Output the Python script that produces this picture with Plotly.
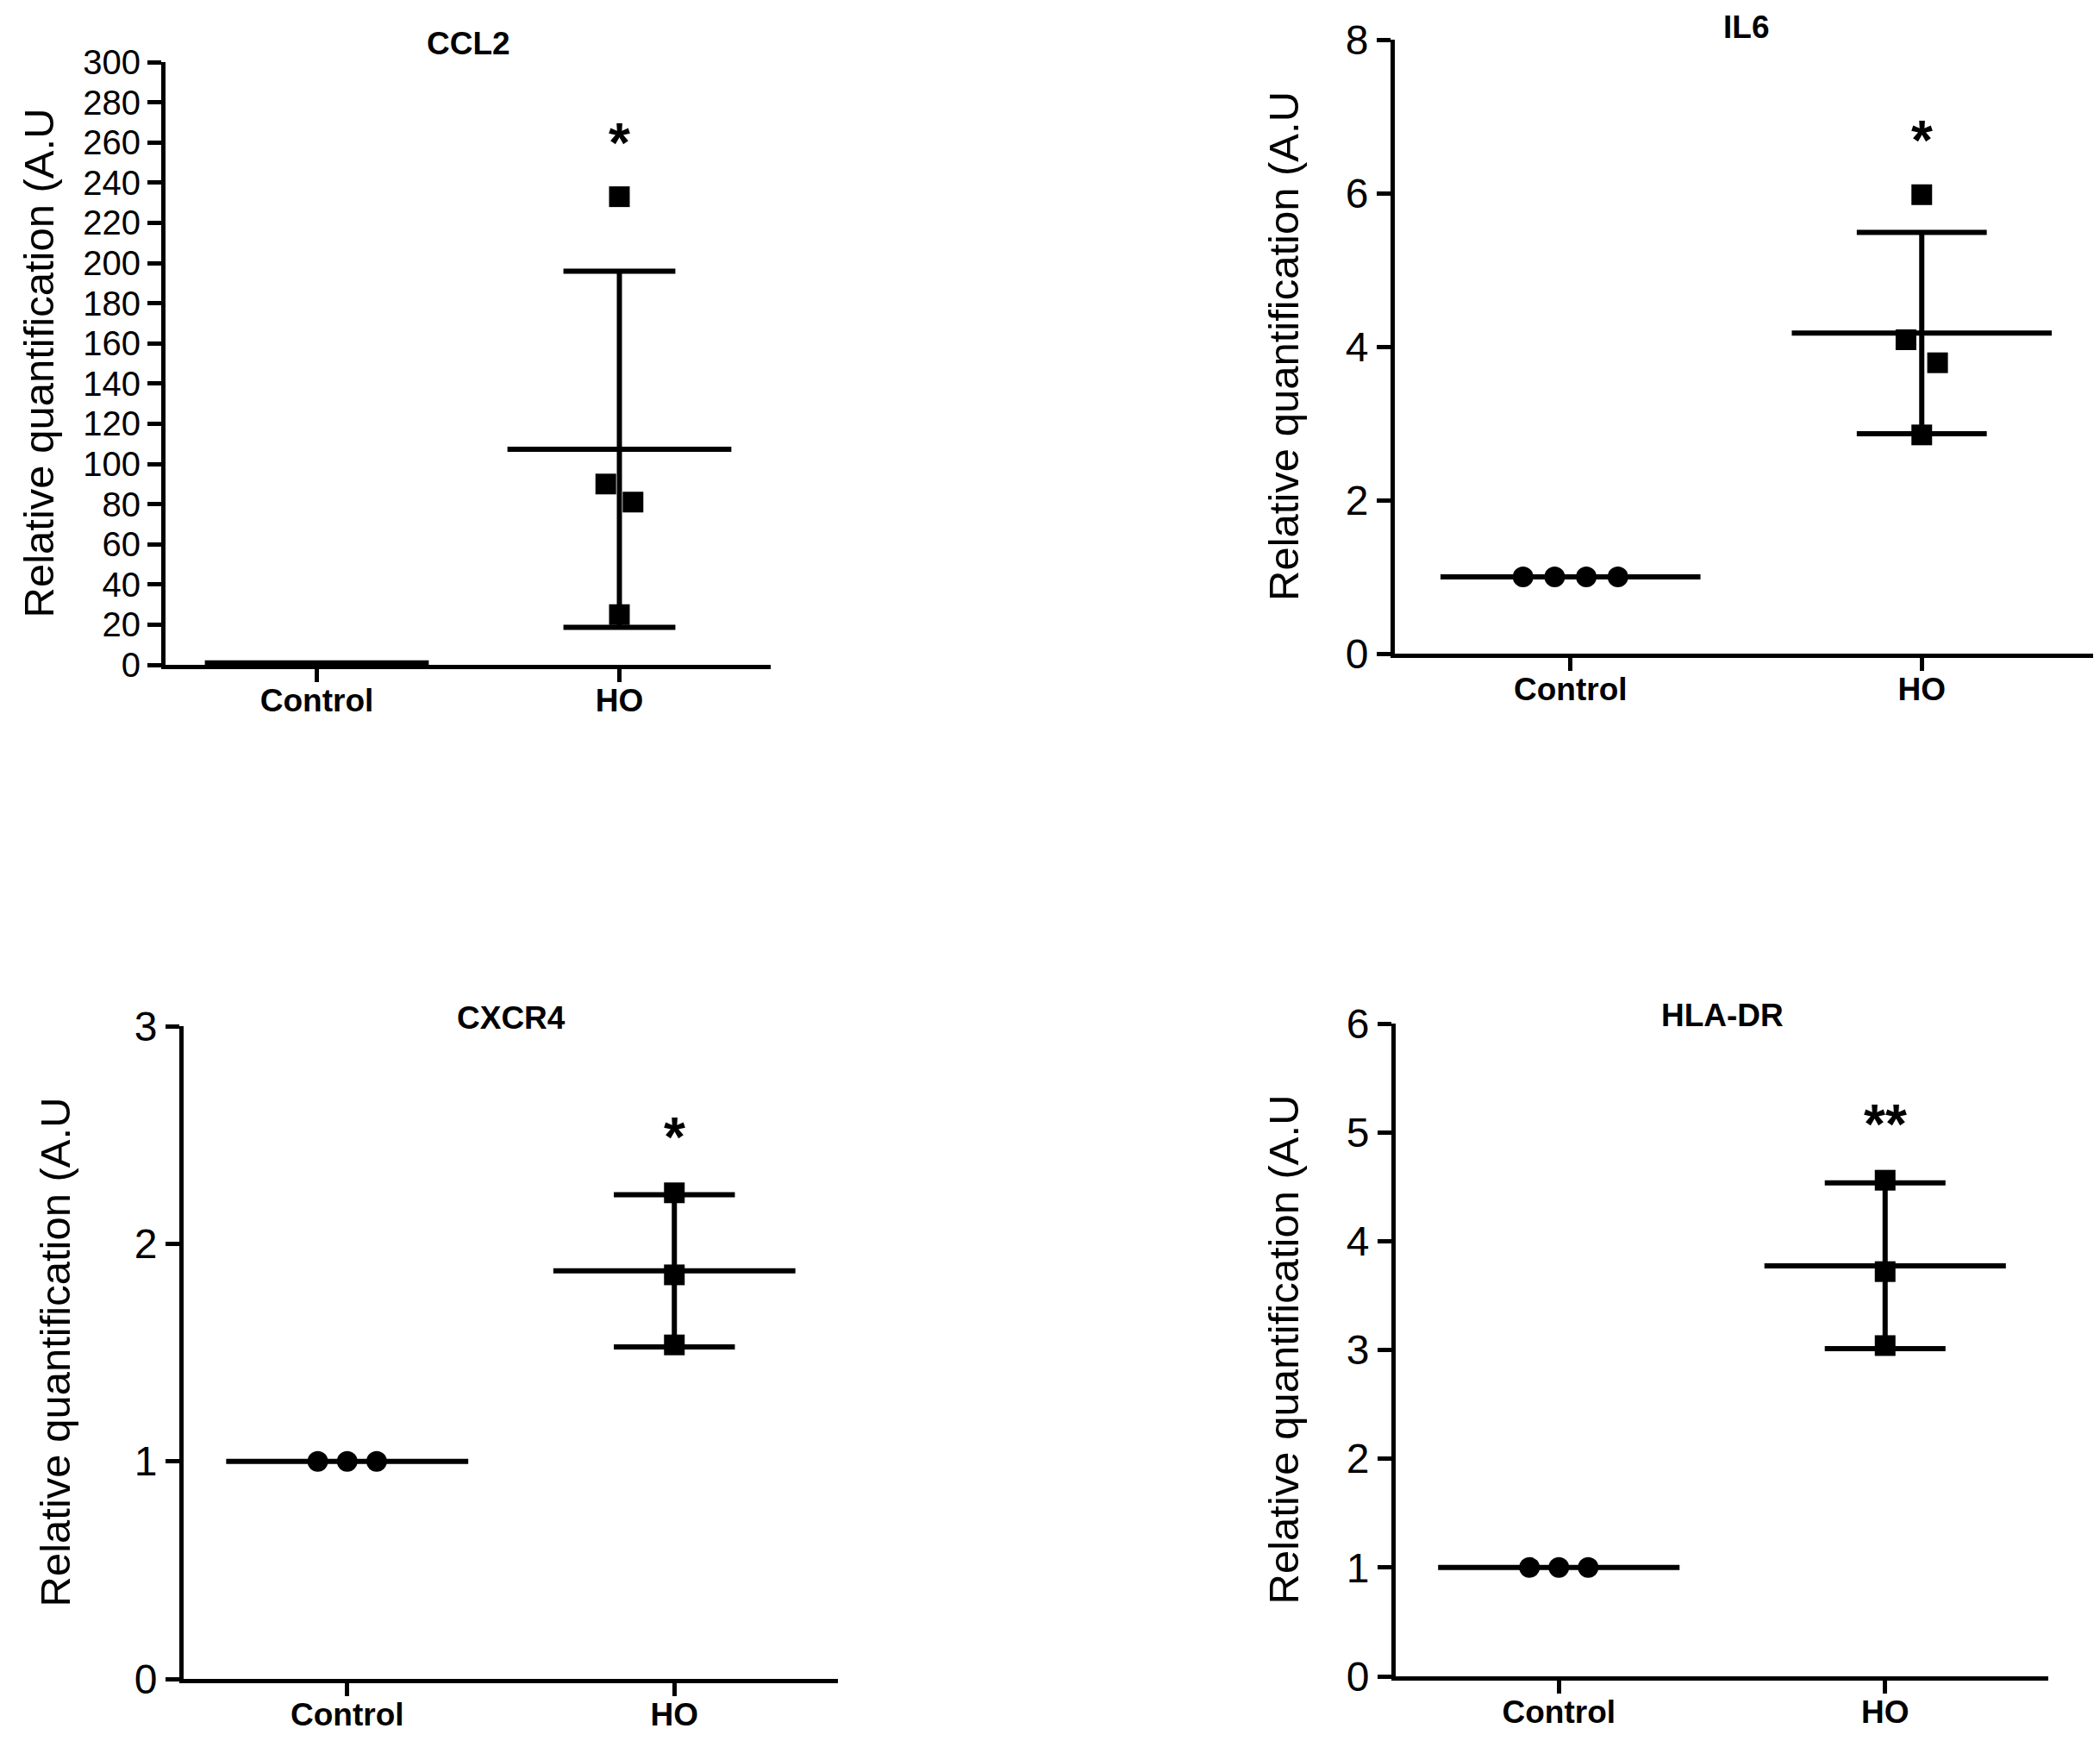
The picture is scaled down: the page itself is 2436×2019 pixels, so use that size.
import numpy as np
import plotly.graph_objects as go

#%% data
groups = ['Control', 'HO']
panels = ['CCL2', 'IL6', 'CXCR4', 'HLA-DR']
stars = ['*', '*', '*', '**']

ccl2_ctrl = [1, 1, 1, 1]
ccl2_ho = [233, 90, 81, 25]
il6_ctrl = [1, 1, 1, 1]
il6_ho = [5.98, 4.09, 3.79, 2.85]
cxcr4_ctrl = [1, 1, 1]
cxcr4_ho = [2.234, 1.857, 1.535]
hladr_ctrl = [1, 1, 1]
hladr_ho = [4.56, 3.72, 3.04]

show_ctrl_pts = [False, True, True, True]
y_max = [300, 8, 3, 6]
y_step = [20, 2, 1, 1]

#%% layout (pixels of the 2436 x 2019 page)
W, H = 2436, 2019
boxes = [([184, 886], [64, 763]),
         ([1610, 2425], [38, 750]),
         ([205, 964], [1182, 1939]),
         ([1611, 2368], [1179, 1936])]
ytitle_x = [37, 1481, 55, 1480]
title_y = [42, 24, 1172, 1169]
ytick_size = [40, 48, 48, 48]

FONT = 'Liberation Sans, Arial, sans-serif'
AXW = 5          # axis line width
LW = 6           # mean / SD line width
MEAN_HW = 0.37   # half width of mean line, in category units
CAP_HW = 0.185   # half width of SD caps


def spread(vals, tol, step=0.09):
    # scatter-dot style offsets for points whose values are close
    vals = np.asarray(vals, float)
    off = np.zeros(len(vals))
    clusters = []
    for i in np.argsort(-vals, kind='stable'):
        if clusters and abs(vals[clusters[-1][-1]] - vals[i]) < tol:
            clusters[-1].append(i)
        else:
            clusters.append([i])
    for c in clusters:
        for k, i in enumerate(c):
            off[i] = (k - (len(c) - 1) / 2) * step
    return off


data = [(ccl2_ctrl, ccl2_ho), (il6_ctrl, il6_ho),
        (cxcr4_ctrl, cxcr4_ho), (hladr_ctrl, hladr_ho)]

fig = go.Figure()
annots = []
layout = {}

for p, name in enumerate(panels):
    ax = '' if p == 0 else str(p + 1)
    xb, yb = boxes[p]
    xdom = [xb[0] / W, xb[1] / W]
    ydom = [1 - yb[1] / H, 1 - yb[0] / H]
    px_per_unit = (xb[1] - xb[0]) / 2.0
    tol = 0.05 * y_max[p]

    for g, vals in enumerate(data[p]):
        vals = np.asarray(vals, float)
        m = vals.mean()
        sd = vals.std(ddof=1)
        # mean line (+ SD whiskers for HO)
        fig.add_trace(go.Scatter(
            x=[g], y=[m], mode='markers', marker=dict(size=0.1, color='black'),
            error_x=dict(type='data', array=[MEAN_HW], symmetric=True,
                         width=0, thickness=LW, color='black'),
            error_y=dict(type='data', array=[sd], symmetric=True,
                         width=CAP_HW * px_per_unit, thickness=LW, color='black',
                         visible=bool(sd > 0)),
            xaxis='x' + ax, yaxis='y' + ax, showlegend=False, hoverinfo='skip'))
        if g == 0 and not show_ctrl_pts[p]:
            continue
        fig.add_trace(go.Scatter(
            x=g + spread(vals, tol), y=vals, mode='markers',
            marker=dict(symbol='circle' if g == 0 else 'square',
                        size=24, color='black', line=dict(width=0)),
            xaxis='x' + ax, yaxis='y' + ax, showlegend=False))

    top = max(np.max(data[p][1]),
              np.mean(data[p][1]) + np.std(data[p][1], ddof=1))
    annots.append(dict(x=1, y=top + 0.035 * y_max[p], xref='x' + ax, yref='y' + ax,
                       text='<b>' + stars[p] + '</b>', showarrow=False,
                       xanchor='center', yanchor='bottom',
                       font=dict(family=FONT, size=64, color='black')))
    annots.append(dict(x=(xdom[0] + xdom[1]) / 2, y=1 - title_y[p] / H,
                       xref='paper', yref='paper',
                       text='<b>' + name + '</b>', showarrow=False,
                       xanchor='center', yanchor='middle',
                       font=dict(family=FONT, size=37, color='black')))
    annots.append(dict(x=ytitle_x[p] / W, y=(ydom[0] + ydom[1]) / 2,
                       xref='paper', yref='paper', textangle=-90,
                       text='Relative quantification (A.U', showarrow=False,
                       xanchor='center', yanchor='middle',
                       font=dict(family=FONT, size=49, color='black')))

    layout['xaxis' + ax] = dict(
        domain=xdom, anchor='y' + ax, range=[-0.5, 1.5], automargin=False,
        tickvals=[0, 1], ticktext=['<b>%s</b>' % s for s in groups],
        showline=True, linewidth=AXW, linecolor='black', ticks='outside',
        ticklen=15, tickwidth=AXW, tickcolor='black', showgrid=False, zeroline=False,
        ticklabelstandoff=-10,
        tickfont=dict(family=FONT, size=37, color='black'))
    layout['yaxis' + ax] = dict(
        domain=ydom, anchor='x' + ax, range=[0, y_max[p]], automargin=False,
        tickmode='linear', tick0=0, dtick=y_step[p],
        showline=True, linewidth=AXW, linecolor='black', ticks='outside',
        ticklen=16, tickwidth=AXW, tickcolor='black', showgrid=False, zeroline=False,
        tickfont=dict(family=FONT, size=ytick_size[p], color='black'))

fig.update_layout(width=W, height=H, margin=dict(l=0, r=0, t=0, b=0),
                  plot_bgcolor='white', paper_bgcolor='white',
                  annotations=annots, **layout)

fig.write_html("out.html")
